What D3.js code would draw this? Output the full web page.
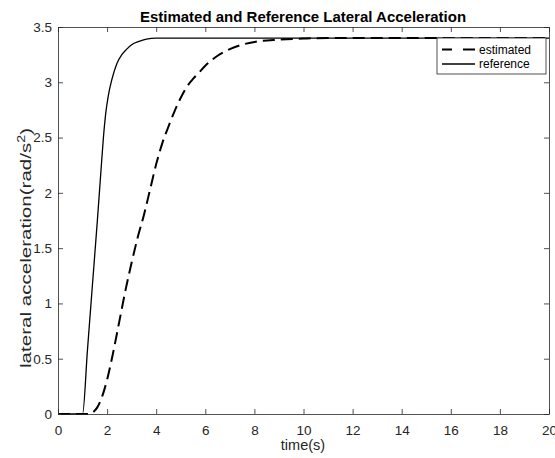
<!DOCTYPE html>
<html>
<head>
<meta charset="utf-8">
<script src="https://cdn.jsdelivr.net/npm/d3@7"></script>
<style>
  html, body { margin: 0; padding: 0; background: #fff; }
  svg { display: block; font-family: "Liberation Sans", Arial, Helvetica, sans-serif; }
</style>
</head>
<body>
<svg id="chart" width="555" height="458"></svg>
<script>
// Reference lateral acceleration (solid line)
const refTime  = [0, 0.5, 1.0, 1.2, 1.4, 1.6, 1.75, 1.85, 1.95, 2.05, 2.2, 2.4, 2.6, 2.8, 3.0, 3.3, 3.6, 4.0, 4.5, 5, 6, 8, 10, 12, 14, 16, 18, 20];
const refValue = [0, 0, 0, 0.58, 1.16, 1.74, 2.2, 2.5, 2.73, 2.88, 3.03, 3.17, 3.25, 3.30, 3.34, 3.37, 3.39, 3.40, 3.40, 3.40, 3.40, 3.40, 3.40, 3.40, 3.40, 3.40, 3.40, 3.40];

// Estimated lateral acceleration (dashed line)
const estTime  = [0, 0.5, 1.0, 1.3, 1.45, 1.6, 1.8, 2.0, 2.25, 2.5, 2.75, 3.0, 3.25, 3.5, 3.75, 4.0, 4.25, 4.5, 4.75, 5.0, 5.25, 5.5, 5.75, 6.0, 6.5, 7.0, 7.5, 8.0, 9.0, 10, 11, 12, 14, 16, 18, 20];
const estValue = [0, 0, 0, 0, 0.02, 0.06, 0.16, 0.31, 0.56, 0.84, 1.12, 1.37, 1.6, 1.8, 2.03, 2.26, 2.45, 2.6, 2.74, 2.86, 2.96, 3.03, 3.09, 3.15, 3.24, 3.30, 3.34, 3.365, 3.385, 3.395, 3.40, 3.40, 3.40, 3.40, 3.40, 3.40];

const xTicks = [0, 2, 4, 6, 8, 10, 12, 14, 16, 18, 20];
const yTicks = [0, 0.5, 1, 1.5, 2, 2.5, 3, 3.5];

const legendLabels = ["estimated", "reference"];

const svg = d3.select("#chart");
const margin = { left: 58, right: 6, top: 27, bottom: 44 };
const W = 555, H = 458;
const x0 = margin.left, x1 = W - margin.right, y0 = margin.top, y1 = H - margin.bottom;

const x = d3.scaleLinear().domain([0, 20]).range([x0, x1]);
const y = d3.scaleLinear().domain([0, 3.5]).range([y1, y0]);

const axisColor = "#262626";

// Data lines
const line = d3.line().x(d => x(d[0])).y(d => y(d[1])).curve(d3.curveMonotoneX);

const g = svg.append("g");
g.append("path")
  .datum(refTime.map((t, i) => [t, refValue[i]]))
  .attr("d", line)
  .attr("fill", "none")
  .attr("stroke", "#000")
  .attr("stroke-width", 1.3);

g.append("path")
  .datum(estTime.map((t, i) => [t, estValue[i]]))
  .attr("d", line)
  .attr("fill", "none")
  .attr("stroke", "#000")
  .attr("stroke-width", 2)
  .attr("stroke-dasharray", "12,6");

// Axes: bottom/left with labels, top/right as box with inward ticks
function styleAxis(sel) {
  sel.select(".domain").attr("stroke", axisColor).attr("stroke-width", 0.8);
  sel.selectAll(".tick line").attr("stroke", axisColor).attr("stroke-width", 0.8);
  sel.selectAll(".tick text").attr("fill", axisColor).attr("font-size", 13.5);
}

const xAxis = svg.append("g").attr("transform", `translate(0,${y1})`)
  .call(d3.axisBottom(x).tickValues(xTicks).tickSizeInner(-5).tickSizeOuter(0).tickPadding(11).tickFormat(d3.format("d")));
styleAxis(xAxis);

const yAxis = svg.append("g").attr("transform", `translate(${x0},0)`)
  .call(d3.axisLeft(y).tickValues(yTicks).tickSizeInner(-5).tickSizeOuter(0).tickPadding(6).tickFormat(d => String(d)));
styleAxis(yAxis);

const xTop = svg.append("g").attr("transform", `translate(0,${y0})`)
  .call(d3.axisTop(x).tickValues(xTicks).tickSizeInner(-5).tickSizeOuter(0).tickFormat(""));
styleAxis(xTop);

const yRight = svg.append("g").attr("transform", `translate(${x1},0)`)
  .call(d3.axisRight(y).tickValues(yTicks).tickSizeInner(-5).tickSizeOuter(0).tickFormat(""));
styleAxis(yRight);

// Title and axis labels
svg.append("text")
  .attr("x", 303).attr("y", 21.5)
  .attr("text-anchor", "middle")
  .attr("font-weight", "bold").attr("font-size", 15)
  .attr("fill", "#000")
  .text("Estimated and Reference Lateral Acceleration");

svg.append("text")
  .attr("x", 303).attr("y", 450)
  .attr("text-anchor", "middle")
  .attr("font-size", 14.5).attr("fill", axisColor)
  .text("time(s)");

const yl = svg.append("text")
  .attr("transform", "translate(31,248) rotate(-90) scale(1.42,1)")
  .attr("text-anchor", "middle")
  .attr("font-size", 14.5).attr("fill", axisColor);
yl.append("tspan").text("lateral acceleration(rad/s");
yl.append("tspan").attr("font-size", 10).attr("dy", -6).text("2");
yl.append("tspan").attr("dy", 6).text(")");

// Legend
const lg = svg.append("g");
const lgX0 = 437, lgX1 = 546, lgY0 = 38, lgY1 = 74;
lg.append("rect")
  .attr("x", lgX0).attr("y", lgY0)
  .attr("width", lgX1 - lgX0).attr("height", lgY1 - lgY0)
  .attr("fill", "#fff").attr("stroke", axisColor).attr("stroke-width", 0.8);

const rows = [
  { label: legendLabels[0], dash: "10,11,12", width: 1.9, cy: 49.5 },
  { label: legendLabels[1], dash: null, width: 1.3, cy: 64 }
];
rows.forEach(r => {
  lg.append("line")
    .attr("x1", 442).attr("x2", 475)
    .attr("y1", r.cy).attr("y2", r.cy)
    .attr("stroke", "#000").attr("stroke-width", r.width)
    .attr("stroke-dasharray", r.dash);
  lg.append("text")
    .attr("x", 479).attr("y", r.cy + 4.3)
    .attr("font-size", 12).attr("fill", "#000")
    .text(r.label);
});
</script>
</body>
</html>
